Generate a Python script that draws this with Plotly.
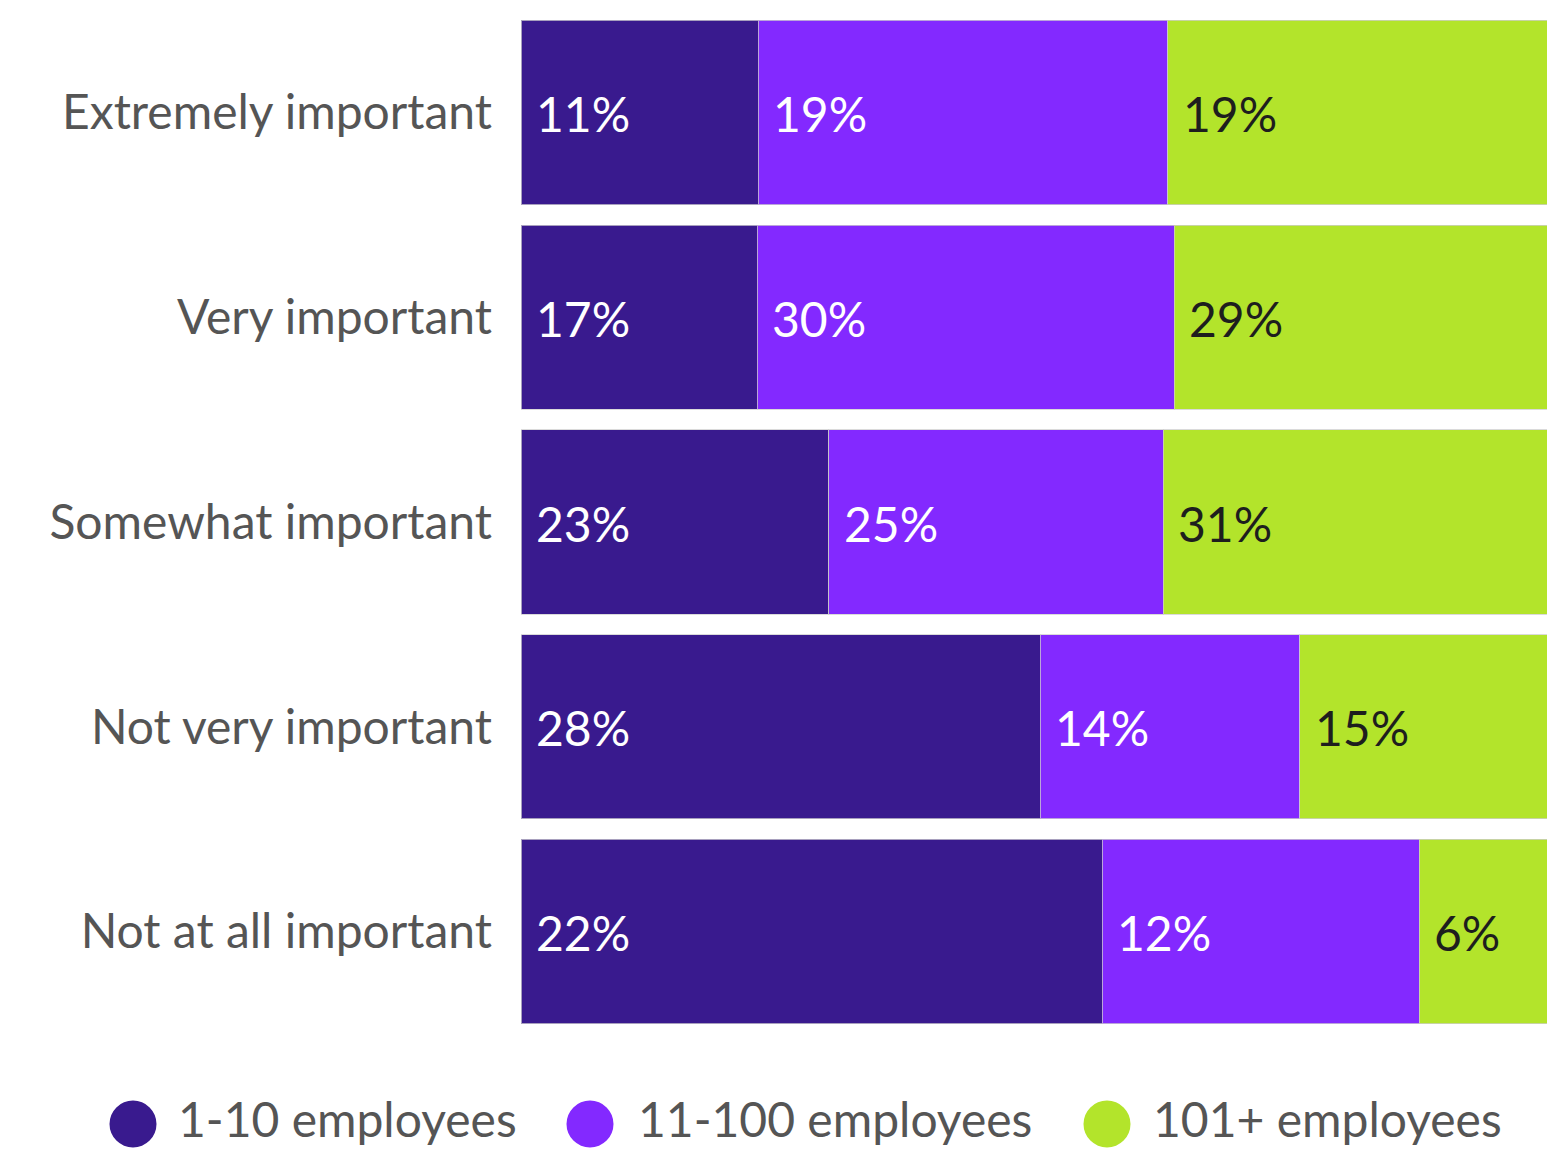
import plotly.graph_objects as go

# Survey responses by company size (share of respondents, %)
categories = ["Extremely important", "Very important", "Somewhat important",
              "Not very important", "Not at all important"]
series_names = ["1-10 employees", "11-100 employees", "101+ employees"]
small = [11, 17, 23, 28, 22]
medium = [19, 30, 25, 14, 12]
large = [19, 29, 31, 15, 6]

colors = ["#391A8E", "#8329FF", "#B3E42B"]
label_colors = ["#FFFFFF", "#FFFFFF", "#1E1E1E"]
FONT = "Lato, 'Open Sans', sans-serif"
FS = 48

W, H = 1547, 1149
M_L, M_R, M_T, M_B = 521, 0, 10, 115
PW, PH = W - M_L - M_R, H - M_T - M_B


def px_x(px):
    return (px - M_L) / PW


def px_y(py):
    return (H - M_B - py) / PH


series = [small, medium, large]
fig = go.Figure()
for name, vals, col in zip(series_names, series, colors):
    fig.add_trace(go.Bar(
        y=categories, x=vals, name=name, orientation="h",
        marker=dict(color=col, line=dict(color="rgba(205,205,205,0.75)", width=1)),
        showlegend=False, hoverinfo="skip",
    ))

# value labels at the left edge of each segment (normalized stacked positions)
annotations = []
for i, cat in enumerate(categories):
    total = sum(s[i] for s in series)
    start = 0.0
    for s, lc in zip(series, label_colors):
        annotations.append(dict(
            x=start / total * 100, y=cat, xref="x", yref="y",
            text=f"{s[i]}%", showarrow=False, xanchor="left", yanchor="middle",
            xshift=13, yshift=-1, font=dict(family=FONT, size=FS, color=lc),
        ))
        start += s[i]

# legend drawn as circles plus labels below the bars
shapes = []
legend_items = [(133, 177), (590, 637), (1107, 1152)]
r = 23.5
ly = 1124
for (cx, tx), name, col in zip(legend_items, series_names, colors):
    shapes.append(dict(
        type="circle", xref="paper", yref="paper",
        x0=px_x(cx - r), x1=px_x(cx + r), y0=px_y(ly + r), y1=px_y(ly - r),
        fillcolor=col, line=dict(width=0),
    ))
    annotations.append(dict(
        x=px_x(tx), y=px_y(H - 1), xref="paper", yref="paper", text=name,
        showarrow=False, xanchor="left", yanchor="bottom", borderpad=0,
        font=dict(family=FONT, size=FS, color="#555555"),
    ))

fig.update_layout(
    width=W, height=H, autosize=False,
    margin=dict(l=M_L, r=M_R, t=M_T, b=M_B, pad=0),
    barmode="stack", barnorm="percent", bargap=0.1,
    plot_bgcolor="white", paper_bgcolor="white",
    font=dict(family=FONT, color="#555555"),
    xaxis=dict(range=[0, 97.1], visible=False, fixedrange=True),
    yaxis=dict(autorange="reversed", showgrid=False, zeroline=False, showline=False,
               ticks="", ticklabelstandoff=28,
               tickfont=dict(family=FONT, size=FS, color="#555555")),
    annotations=annotations, shapes=shapes, showlegend=False,
)

fig.write_html("out.html")
